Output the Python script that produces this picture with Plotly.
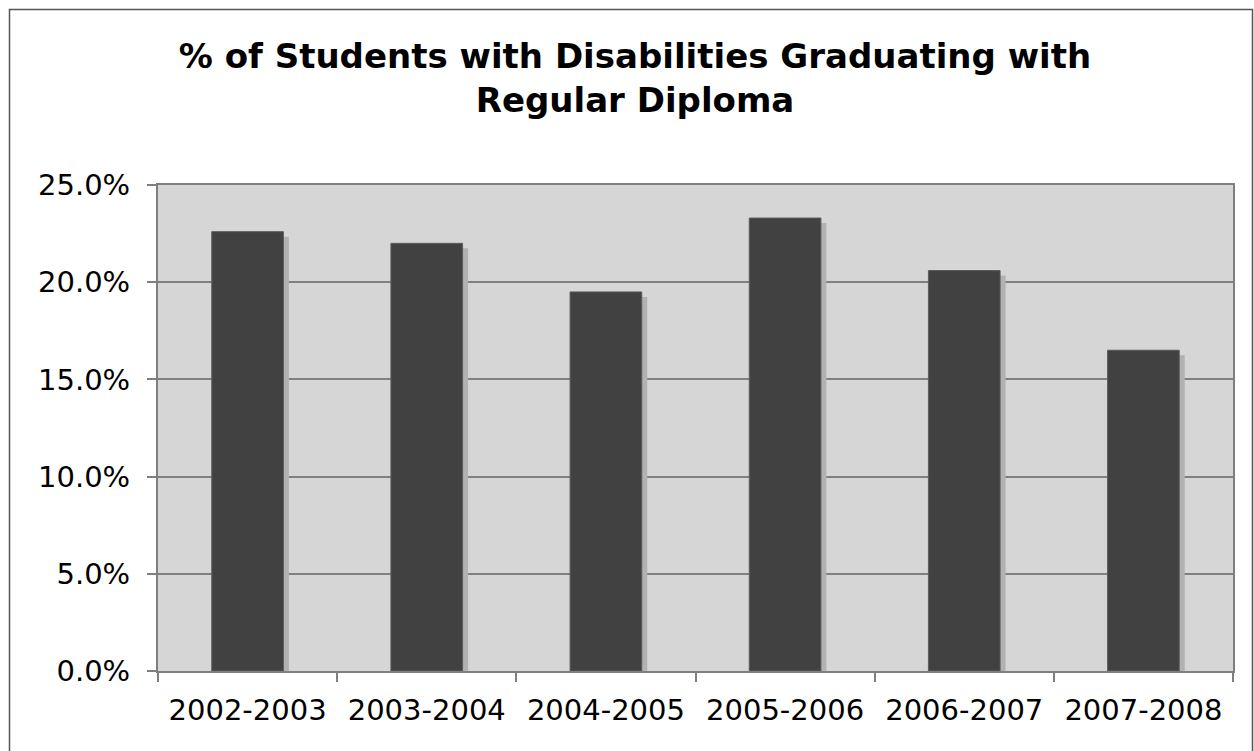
import plotly.graph_objects as go

categories = ["2002-2003", "2003-2004", "2004-2005", "2005-2006", "2006-2007", "2007-2008"]
values = [22.6, 22.0, 19.5, 23.3, 20.6, 16.5]
y_ticks = [0, 5, 10, 15, 20, 25]
y_tick_labels = ["0.0%", "5.0%", "10.0%", "15.0%", "20.0%", "25.0%"]

W, H = 1254, 751
ML, MR, MT, MB = 158, 21, 185, 80
pw = W - ML - MR
ph = H - MT - MB

def px_x(px):
    return (px - ML) / pw

def px_y(py):
    return 1 - (py - MT) / ph

# shadow offset: ~5px right, ~5px down
unit_px = pw / len(categories)
dx = 5.5 / unit_px
dy = 5.0 / (ph / 25.0)
bar_w = 0.40

fig = go.Figure()
fig.add_trace(go.Bar(
    x=categories, y=[v - dy for v in values],
    width=bar_w, offset=-bar_w / 2 + dx,
    marker=dict(color="#b2b2b2", line=dict(width=0)),
    hoverinfo="skip", showlegend=False,
))
fig.add_trace(go.Bar(
    x=categories, y=values,
    width=bar_w, offset=-bar_w / 2,
    marker=dict(color="#414141", line=dict(color="#5c5c5c", width=1)),
    showlegend=False,
))

fig.update_layout(
    width=W, height=H,
    margin=dict(l=ML, r=MR, t=MT, b=MB),
    paper_bgcolor="white",
    plot_bgcolor="#d6d6d6",
    barmode="overlay",
    font=dict(family="DejaVu Sans", color="black"),
    title=dict(
        text="<b>% of Students with Disabilities Graduating with<br>Regular Diploma</b>",
        x=635 / W, xanchor="center", xref="container",
        y=1 - 68 / H, yanchor="middle", yref="container",
        font=dict(family="DejaVu Sans", size=34, color="black"),
    ),
    xaxis=dict(
        type="category",
        tickson="boundaries",
        ticks="outside", ticklen=9, tickcolor="#7f7f7f", tickwidth=1.5,
        showline=True, linecolor="#7f7f7f", linewidth=2, mirror=True,
        showgrid=False,
        tickfont=dict(family="DejaVu Sans", size=29, color="black"),
        ticklabelstandoff=12,
        range=[-0.5, 5.5],
    ),
    yaxis=dict(
        range=[0, 25],
        tickvals=y_ticks, ticktext=y_tick_labels,
        ticks="outside", ticklen=9, tickcolor="#7f7f7f", tickwidth=1.5,
        showline=True, linecolor="#7f7f7f", linewidth=2, mirror=True,
        showgrid=True, gridcolor="#808080", gridwidth=1.5,
        zeroline=False,
        tickfont=dict(family="DejaVu Sans", size=29, color="black"),
        ticklabelstandoff=11,
    ),
    shapes=[
        dict(type="rect", xref="paper", yref="paper",
             x0=px_x(9.5), x1=px_x(1252.5), y0=px_y(9.5), y1=px_y(760),
             line=dict(color="#555555", width=1.5), fillcolor="rgba(0,0,0,0)",
             layer="below"),
    ],
)

fig.write_html("out.html")
